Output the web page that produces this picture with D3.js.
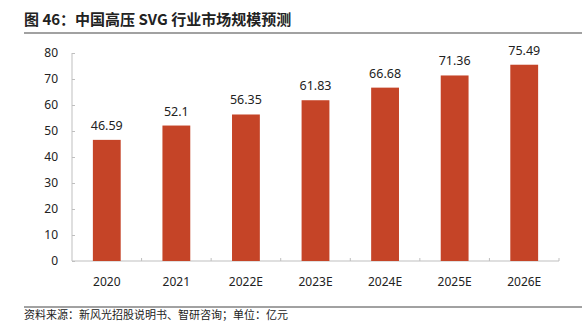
<!DOCTYPE html>
<html lang="zh">
  <head>
    <meta charset="UTF-8" />
    <title>中国高压 SVG 行业市场规模预测</title>
    <style>
      body { margin: 0; background: #fff; }
      text { font-family: "Noto Sans CJK SC", "Noto Sans", sans-serif; }
    </style>
  </head>
  <body>
    <svg id="svg" width="582" height="330"></svg>

    <script src="https://d3js.org/d3.v7.min.js"></script>
    <script>
      const years = ["2020", "2021", "2022E", "2023E", "2024E", "2025E", "2026E"];
      const values = [46.59, 52.1, 56.35, 61.83, 66.68, 71.36, 75.49];
      const yTicks = [0, 10, 20, 30, 40, 50, 60, 70, 80];

      const svg = d3.select("#svg");

      // title and rules
      svg.append("text")
        .attr("x", 24).attr("y", 25)
        .attr("font-size", 15).attr("font-weight", "bold").attr("fill", "#222")
        .text("图 46：中国高压  SVG  行业市场规模预测");
      svg.append("line")
        .attr("x1", 24).attr("x2", 582).attr("y1", 33).attr("y2", 33)
        .attr("stroke", "#444").attr("stroke-width", 1.2);
      svg.append("line")
        .attr("x1", 24).attr("x2", 582).attr("y1", 307).attr("y2", 307)
        .attr("stroke", "#444").attr("stroke-width", 1);
      svg.append("text")
        .attr("x", 24).attr("y", 319)
        .attr("font-size", 11).attr("fill", "#222")
        .text("资料来源：新风光招股说明书、智研咨询；单位：亿元");

      const x = d3.scaleBand().domain(years).range([72, 559]).paddingInner(0.6).paddingOuter(0.3);
      const y = d3.scaleLinear().domain([0, 80]).range([261, 53]);

      // y axis
      const yAxis = svg.append("g")
        .attr("transform", "translate(72,0)")
        .call(d3.axisLeft(y).tickValues(yTicks).tickSize(-3).tickPadding(14));
      yAxis.select(".domain").attr("stroke", "#bfbfbf").attr("d", "M0,53V261");
      yAxis.selectAll(".tick line").attr("stroke", "#bfbfbf");
      yAxis.selectAll("text").attr("font-size", 12).attr("fill", "#222")
        .style("font-family", "'Noto Sans', sans-serif");

      // x axis, ticks at band boundaries
      const xAxis = svg.append("g")
        .attr("transform", "translate(0,261)")
        .call(d3.axisBottom(x).tickSize(0).tickPadding(16));
      xAxis.select(".domain").attr("stroke", "#bfbfbf").attr("d", "M72,0H559");
      xAxis.selectAll("text").attr("font-size", 12).attr("fill", "#222")
        .style("font-family", "'Noto Sans', sans-serif");
      const step = (559 - 72) / years.length;
      xAxis.selectAll(".bound")
        .data(d3.range(1, years.length + 1))
        .enter().append("line")
        .attr("x1", (i) => 72 + i * step).attr("x2", (i) => 72 + i * step)
        .attr("y1", 0).attr("y2", -3)
        .attr("stroke", "#bfbfbf");

      // bars
      svg.selectAll("rect.bar")
        .data(values)
        .enter().append("rect")
        .attr("class", "bar")
        .attr("x", (d, i) => x(years[i]))
        .attr("y", (d) => y(d))
        .attr("width", x.bandwidth())
        .attr("height", (d) => y(0) - y(d))
        .attr("fill", "#c54427");

      // value labels
      svg.selectAll("text.val")
        .data(values)
        .enter().append("text")
        .attr("class", "val")
        .attr("x", (d, i) => x(years[i]) + x.bandwidth() / 2)
        .attr("y", (d) => y(d) - 10)
        .attr("text-anchor", "middle")
        .attr("font-size", 12.5).attr("fill", "#222")
        .style("font-family", "'Noto Sans', sans-serif")
        .text((d) => d);
    </script>
  </body>
</html>
